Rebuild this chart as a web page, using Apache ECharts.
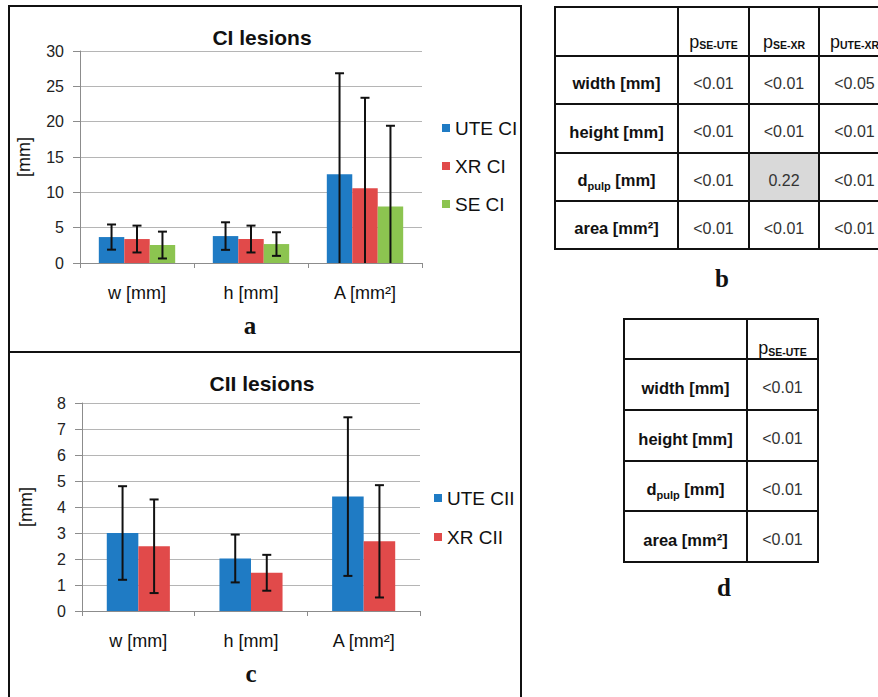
<!DOCTYPE html>
<html><head><meta charset="utf-8">
<script src="https://cdn.jsdelivr.net/npm/echarts@6/dist/echarts.min.js"></script>
<style>html,body{margin:0;padding:0;background:#fff}#c{width:878px;height:697px}</style>
</head><body><div id="c"></div>
<script>
// ---------- data ----------
const categories = ['w [mm]', 'h [mm]', 'A [mm²]'];

const ciSeriesNames = ['UTE CI', 'XR CI', 'SE CI'];
const uteCIMean = [3.67, 3.81, 12.55];
const uteCISd   = [1.78, 1.95, 14.3];
const xrCIMean  = [3.39, 3.39, 10.58];
const xrCISd    = [1.9, 1.9, 12.8];
const seCIMean  = [2.54, 2.68, 7.99];
const seCISd    = [1.9, 1.67, 11.43];

const ciiSeriesNames = ['UTE CII', 'XR CII'];
const uteCIIMean = [3.0, 2.02, 4.40];
const uteCIISd   = [1.8, 0.92, 3.05];
const xrCIIMean  = [2.49, 1.47, 2.68];
const xrCIISd    = [1.8, 0.69, 2.16];

const ciTicks  = [0, 5, 10, 15, 20, 25, 30];
const ciiTicks = [0, 1, 2, 3, 4, 5, 6, 7, 8];

const tableRowLabels = ['width [mm]', 'height [mm]', 'd_pulp [mm]', 'area [mm²]'];
const tableBHeaders = ['p_SE-UTE', 'p_SE-XR', 'p_UTE-XR'];
const tableBValues = [
  ['<0.01', '<0.01', '<0.05'],
  ['<0.01', '<0.01', '<0.01'],
  ['<0.01', '0.22', '<0.01'],
  ['<0.01', '<0.01', '<0.01']
];
const tableDHeaders = ['p_SE-UTE'];
const tableDValues = [['<0.01'], ['<0.01'], ['<0.01'], ['<0.01']];

// ---------- styles ----------
const FONT = 'Liberation Sans, Arial, sans-serif';
const SERIF = 'Liberation Serif, Times New Roman, serif';
const COLORS = ['#1f7bc4', '#e14a4a', '#8cc450'];

const chart = echarts.init(document.getElementById('c'), null, {renderer: 'svg'});

function errRender(idx, n, gap) {
  return function (params, api) {
    const ci = api.value(0), m = api.value(1), sd = api.value(2);
    const band = api.size([1, 0])[0];
    const group = band * (1 - gap);
    const bw = group / n;
    const cx = api.coord([ci, 0])[0] - group / 2 + bw * (idx + 0.5);
    const lowV = m - sd;
    const hiY = api.coord([ci, m + sd])[1];
    const loY = api.coord([ci, Math.max(0, lowV)])[1];
    const st = {stroke: '#111', lineWidth: 2};
    const ch = [
      {type: 'line', shape: {x1: cx, y1: hiY, x2: cx, y2: loY}, style: st},
      {type: 'line', shape: {x1: cx - 4.5, y1: hiY, x2: cx + 4.5, y2: hiY}, style: st}
    ];
    if (lowV >= 0) ch.push({type: 'line', shape: {x1: cx - 4.5, y1: loY, x2: cx + 4.5, y2: loY}, style: st});
    return {type: 'group', children: ch};
  };
}

function yAxis(gi, ticks) {
  return {
    type: 'value', gridIndex: gi, min: ticks[0], max: ticks[ticks.length - 1],
    interval: ticks[1] - ticks[0],
    name: '[mm]', nameLocation: 'middle', nameGap: 47, nameRotate: 90,
    nameTextStyle: {fontFamily: FONT, fontSize: 18, color: '#111'},
    axisLine: {show: true, lineStyle: {color: '#8c8c8c', width: 1}},
    axisTick: {show: true, length: 7, lineStyle: {color: '#8c8c8c'}},
    axisLabel: {fontFamily: FONT, fontSize: 16, color: '#222', margin: 16},
    splitLine: {show: true, lineStyle: {color: '#b5b5b5', width: 1}}
  };
}
function xAxis(gi) {
  return {
    type: 'category', gridIndex: gi, data: categories,
    axisLine: {show: true, lineStyle: {color: '#8c8c8c', width: 1}},
    axisTick: {show: true, length: 5, alignWithLabel: false, lineStyle: {color: '#8c8c8c'}},
    axisLabel: {fontFamily: FONT, fontSize: 18, color: '#111', margin: 21},
    splitLine: {show: false}
  };
}

const GAP_A = 0.33, GAP_C = 0.44;
const ciMeans = [uteCIMean, xrCIMean, seCIMean];
const ciSds = [uteCISd, xrCISd, seCISd];
const ciiMeans = [uteCIIMean, xrCIIMean];
const ciiSds = [uteCIISd, xrCIISd];

const series = [];
ciMeans.forEach((arr, i) => series.push({
  type: 'bar', name: ciSeriesNames[i], xAxisIndex: 0, yAxisIndex: 0, data: arr,
  barGap: '0%', barCategoryGap: (GAP_A * 100) + '%', itemStyle: {color: COLORS[i]}, animation: false
}));
ciMeans.forEach((arr, i) => series.push({
  type: 'custom', name: 'errA' + i, xAxisIndex: 0, yAxisIndex: 0, z: 5,
  renderItem: errRender(i, 3, GAP_A),
  data: arr.map((v, k) => [k, v, ciSds[i][k]]), animation: false
}));
ciiMeans.forEach((arr, i) => series.push({
  type: 'bar', name: ciiSeriesNames[i], xAxisIndex: 1, yAxisIndex: 1, data: arr,
  barGap: '0%', barCategoryGap: (GAP_C * 100) + '%', itemStyle: {color: COLORS[i]}, animation: false
}));
ciiMeans.forEach((arr, i) => series.push({
  type: 'custom', name: 'errC' + i, xAxisIndex: 1, yAxisIndex: 1, z: 5,
  renderItem: errRender(i, 2, GAP_C),
  data: arr.map((v, k) => [k, v, ciiSds[i][k]]), animation: false
}));

// ---------- graphics: panel frames, titles, letters, tables ----------
const graphics = [];
graphics.push({type: 'rect', shape: {x: 9, y: 6, width: 512, height: 346}, style: {fill: 'none', stroke: '#111', lineWidth: 2}, z: 1});
graphics.push({type: 'rect', shape: {x: 9, y: 352, width: 512, height: 360}, style: {fill: 'none', stroke: '#111', lineWidth: 2}, z: 1});

function txt(x, y, text, font, opts) {
  return Object.assign({type: 'text', x: x, y: y, z: 10,
    style: Object.assign({text: text, font: font, fill: '#111', textAlign: 'center', textVerticalAlign: 'middle'}, opts || {})});
}
graphics.push(txt(262, 37, 'CI lesions', 'bold 21px ' + FONT));
graphics.push(txt(262, 383, 'CII lesions', 'bold 21px ' + FONT));
graphics.push(txt(250, 325, 'a', 'bold 25px ' + SERIF));
graphics.push(txt(251, 673, 'c', 'bold 25px ' + SERIF));
graphics.push(txt(722, 278, 'b', 'bold 25px ' + SERIF));
graphics.push(txt(724, 587, 'd', 'bold 25px ' + SERIF));

function subRich(s) {
  const m = s.match(/^([^_]+)_(\S+)(.*)$/);
  if (!m) return null;
  return '{b|' + m[1] + '}{s|' + m[2] + '}' + (m[3] ? '{r|' + m[3] + '}' : '');
}

function buildTable(colX, rowY, headers, values, headerDy, rowDy) {
  const nR = rowY.length - 1, nC = colX.length - 1;
  for (let r = 0; r < nR; r++) {
    for (let c = 0; c < nC; c++) {
      let fill = '#fff';
      if (r > 0 && c > 0) {
        const v = values[r - 1][c - 1];
        if (v.charAt(0) !== '<') fill = '#d9d9d9';
      }
      graphics.push({type: 'rect', z: 2,
        shape: {x: colX[c], y: rowY[r], width: colX[c + 1] - colX[c], height: rowY[r + 1] - rowY[r]},
        style: {fill: fill, stroke: '#111', lineWidth: 2}});
      const cx = (colX[c] + colX[c + 1]) / 2;
      const cy = (rowY[r] + rowY[r + 1]) / 2;
      if (r === 0 && c > 0) {
        graphics.push({type: 'text', x: cx, y: cy + headerDy, z: 10, style: {
          text: subRich(headers[c - 1]), textAlign: 'center', textVerticalAlign: 'middle',
          rich: {
            b: {fontFamily: FONT, fontSize: 18, fill: '#111', lineHeight: 20, verticalAlign: 'bottom'},
            s: {fontFamily: FONT, fontSize: 10.5, fontWeight: 'bold', fill: '#111', lineHeight: 14, verticalAlign: 'bottom'}
          }}});
      } else if (r > 0 && c === 0) {
        const lab = tableRowLabels[r - 1];
        const rich = subRich(lab);
        if (rich) {
          graphics.push({type: 'text', x: cx, y: cy + rowDy, z: 10, style: {
            text: rich, textAlign: 'center', textVerticalAlign: 'middle',
            rich: {
              b: {fontFamily: FONT, fontSize: 16.5, fontWeight: 'bold', fill: '#111', lineHeight: 22, verticalAlign: 'middle'},
              s: {fontFamily: FONT, fontSize: 11, fontWeight: 'bold', fill: '#111', lineHeight: 22, verticalAlign: 'bottom'},
              r: {fontFamily: FONT, fontSize: 16.5, fontWeight: 'bold', fill: '#111', lineHeight: 22, verticalAlign: 'middle'}
            }}});
        } else {
          graphics.push(txt(cx, cy + rowDy, lab, 'bold 16.5px ' + FONT));
        }
      } else if (r > 0 && c > 0) {
        graphics.push(txt(cx, cy + rowDy, values[r - 1][c - 1], '16px ' + FONT, {fill: '#333'}));
      }
    }
  }
}
buildTable([555, 678, 749, 819, 890], [7, 56, 104, 153, 201, 249], tableBHeaders, tableBValues, 9, 3);
buildTable([624, 747, 818], [319, 359, 410, 461, 511, 562], tableDHeaders, tableDValues, 8, 3);

chart.setOption({
  animation: false,
  backgroundColor: '#fff',
  grid: [
    {left: 80, top: 51, width: 342, height: 212, containLabel: false},
    {left: 82, top: 403, width: 338, height: 208, containLabel: false}
  ],
  xAxis: [xAxis(0), xAxis(1)],
  yAxis: [yAxis(0, ciTicks), yAxis(1, ciiTicks)],
  legend: [
    {data: ciSeriesNames, orient: 'vertical', left: 437, top: 113, itemGap: 18, icon: 'rect',
     itemWidth: 8, itemHeight: 8, itemStyle: {borderWidth: 0}, selectedMode: false,
     textStyle: {fontFamily: FONT, fontSize: 19, color: '#111', lineHeight: 20, padding: [0, 0, 0, 0]}},
    {data: ciiSeriesNames, orient: 'vertical', left: 429, top: 483, itemGap: 19, icon: 'rect',
     itemWidth: 8, itemHeight: 8, itemStyle: {borderWidth: 0}, selectedMode: false,
     textStyle: {fontFamily: FONT, fontSize: 19, color: '#111', lineHeight: 20, padding: [0, 0, 0, 0]}}
  ],
  tooltip: {show: false},
  series: series,
  graphic: graphics
});
</script>
</body></html>
